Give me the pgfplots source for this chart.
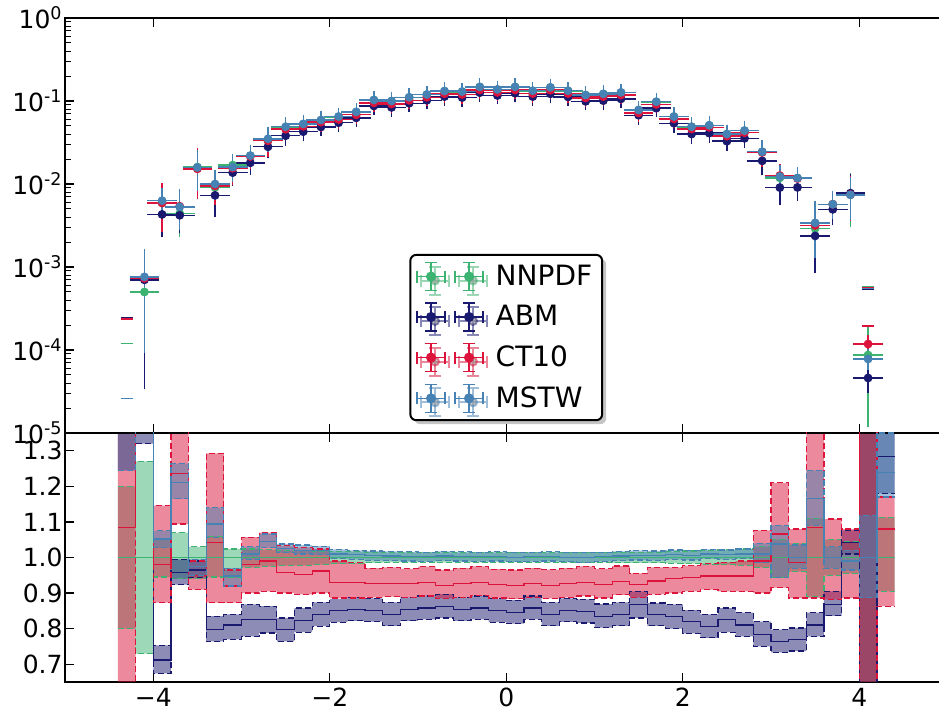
\documentclass[border=0pt]{standalone}
\usepackage{fontspec}
\setmainfont{DejaVu Sans}
\usepackage{pgfplots}
\usepackage{pgfplotstable}
\pgfplotsset{compat=1.18}
\usepgfplotslibrary{fillbetween}
\usetikzlibrary{shadows}

\definecolor{nn}{HTML}{3CB371}
\definecolor{abm}{HTML}{191970}
\definecolor{ct}{HTML}{DC143C}
\definecolor{ms}{HTML}{4682B4}

% top panel: bin centre, value, error
\pgfplotstableread{
x y e
-4.1 5.0e-4 1.3e-4
-3.9 6.0e-3 1.2e-3
-3.7 4.4e-3 1.7e-3
-3.5 0.016 0.0072
-3.3 9.1e-3 2.5e-3
-3.1 0.0169 0.0025
-2.9 0.0218 0.003
-2.7 0.0335 0.006
-2.5 0.0478 0.005
-2.3 0.052 0.005
-2.1 0.0578 0.005
-1.9 0.0644 0.005
-1.7 0.0733 0.006
-1.5 0.1025 0.008
-1.3 0.0995 0.008
-1.1 0.110 0.009
-0.9 0.119 0.009
-0.7 0.131 0.010
-0.5 0.129 0.010
-0.3 0.147 0.011
-0.1 0.137 0.011
0.1 0.147 0.011
0.3 0.132 0.010
0.5 0.145 0.011
0.7 0.132 0.010
0.9 0.117 0.009
1.1 0.121 0.009
1.3 0.126 0.010
1.5 0.0776 0.007
1.7 0.0975 0.008
1.9 0.0647 0.006
2.1 0.0488 0.005
2.3 0.0508 0.005
2.5 0.0398 0.004
2.7 0.0438 0.005
2.9 0.0243 0.004
3.1 0.01185 0.0025
3.3 0.0118 0.0018
3.5 2.92e-3 1.6e-3
3.7 5.7e-3 1.2e-3
3.9 7.45e-3 3.9e-3
4.1 8.7e-5 7.3e-5
}\nnpdf
\pgfplotstableread{
x y e
-4.1 7.0e-4 6.6e-4
-3.9 4.3e-3 1.6e-3
-3.7 4.2e-3 1.2e-3
-3.5 0.0155 0.007
-3.3 7.3e-3 2.6e-3
-3.1 0.0137 0.0025
-2.9 0.018 0.003
-2.7 0.0281 0.004
-2.5 0.0382 0.004
-2.3 0.0427 0.004
-2.1 0.0486 0.004
-1.9 0.0547 0.005
-1.7 0.0626 0.005
-1.5 0.0872 0.007
-1.3 0.0836 0.007
-1.1 0.094 0.008
-0.9 0.102 0.008
-0.7 0.113 0.009
-0.5 0.110 0.009
-0.3 0.126 0.010
-0.1 0.1165 0.009
0.1 0.124 0.010
0.3 0.113 0.009
0.5 0.122 0.010
0.7 0.112 0.009
0.9 0.099 0.008
1.1 0.101 0.008
1.3 0.106 0.008
1.5 0.0674 0.006
1.7 0.0819 0.007
1.9 0.054 0.005
2.1 0.040 0.004
2.3 0.041 0.004
2.5 0.0328 0.003
2.7 0.0355 0.003
2.9 0.019 0.004
3.1 9.05e-3 2.5e-3
3.3 9.1e-3 1.8e-3
3.5 2.37e-3 1.37e-3
3.7 4.95e-3 1.2e-3
3.9 7.76e-3 3.5e-3
4.1 4.6e-5 1.0e-5
}\abmtab
\pgfplotstableread{
x y e
-4.1 7.3e-4 6.1e-4
-3.9 5.9e-3 2.8e-3
-3.7 5.4e-3 1.6e-3
-3.5 0.0152 0.0075
-3.3 9.5e-3 2.9e-3
-3.1 0.0155 0.004
-2.9 0.0214 0.0036
-2.7 0.0332 0.008
-2.5 0.0458 0.005
-2.3 0.0496 0.005
-2.1 0.0556 0.005
-1.9 0.0599 0.005
-1.7 0.0682 0.006
-1.5 0.0949 0.008
-1.3 0.0921 0.008
-1.1 0.102 0.008
-0.9 0.111 0.009
-0.7 0.1225 0.010
-0.5 0.120 0.010
-0.3 0.136 0.011
-0.1 0.127 0.010
0.1 0.136 0.011
0.3 0.123 0.010
0.5 0.135 0.011
0.7 0.123 0.010
0.9 0.109 0.009
1.1 0.113 0.009
1.3 0.118 0.009
1.5 0.0718 0.006
1.7 0.091 0.007
1.9 0.0608 0.005
2.1 0.046 0.004
2.3 0.0482 0.004
2.5 0.0377 0.003
2.7 0.0415 0.004
2.9 0.024 0.005
3.1 0.01263 0.002
3.3 0.01163 0.0018
3.5 3.17e-3 0.9e-3
3.7 5.7e-3 1.2e-3
3.9 7.45e-3 3.2e-3
4.1 1.18e-4 1.0e-5
}\cttab
\pgfplotstableread{
x y e
-4.1 7.6e-4 6.5e-4
-3.9 6.3e-3 1.3e-3
-3.7 5.3e-3 2.0e-3
-3.5 0.0158 0.006
-3.3 0.0100 2.5e-3
-3.1 0.016 0.0035
-2.9 0.022 0.003
-2.7 0.035 0.006
-2.5 0.049 0.005
-2.3 0.053 0.005
-2.1 0.059 0.005
-1.9 0.065 0.005
-1.7 0.074 0.006
-1.5 0.103 0.008
-1.3 0.100 0.008
-1.1 0.111 0.009
-0.9 0.120 0.009
-0.7 0.132 0.010
-0.5 0.130 0.010
-0.3 0.148 0.011
-0.1 0.138 0.011
0.1 0.148 0.011
0.3 0.133 0.010
0.5 0.146 0.011
0.7 0.133 0.010
0.9 0.118 0.009
1.1 0.122 0.009
1.3 0.127 0.010
1.5 0.078 0.007
1.7 0.098 0.008
1.9 0.065 0.006
2.1 0.049 0.005
2.3 0.051 0.005
2.5 0.040 0.004
2.7 0.044 0.005
2.9 0.0245 0.004
3.1 0.0123 0.0022
3.3 0.0118 0.0018
3.5 3.4e-3 1.9e-3
3.7 5.7e-3 1.2e-3
3.9 7.4e-3 3.0e-3
4.1 7.8e-5 1.0e-5
}\mstab

% ratio panel: bin left edge, lower, central, upper
\pgfplotstableread{
x lo c hi
-4.4 0.80 1.0 1.20
-4.2 0.73 1.0 1.27
-4.0 0.945 1.0 1.05
-3.8 0.94 1.0 1.07
-3.6 0.94 1.0 1.03
-3.4 0.945 1.0 1.06
-3.2 0.943 1.0 1.024
-3.0 0.972 1.0 1.024
-2.8 0.975 1.0 1.022
-2.6 0.977 1.0 1.02
-2.4 0.978 1.0 1.02
-2.2 0.98 1.0 1.018
-2.0 0.982 1.0 1.017
-1.8 0.983 1.0 1.016
-1.6 0.985 1.0 1.015
-1.4 0.986 1.0 1.014
-1.2 0.986 1.0 1.014
-1.0 0.987 1.0 1.013
-0.8 0.986 1.0 1.014
-0.6 0.987 1.0 1.013
-0.4 0.986 1.0 1.014
-0.2 0.987 1.0 1.013
0.0 0.987 1.0 1.013
0.2 0.986 1.0 1.014
0.4 0.987 1.0 1.013
0.6 0.986 1.0 1.014
0.8 0.986 1.0 1.014
1.0 0.986 1.0 1.014
1.2 0.985 1.0 1.015
1.4 0.985 1.0 1.015
1.6 0.985 1.0 1.015
1.8 0.984 1.0 1.016
2.0 0.983 1.0 1.018
2.2 0.981 1.0 1.02
2.4 0.98 1.0 1.022
2.6 0.978 1.0 1.024
2.8 0.972 1.0 1.03
3.0 0.943 1.0 1.05
3.2 0.96 1.0 1.04
3.4 0.89 1.0 1.11
3.6 0.95 1.0 1.05
3.8 0.955 1.0 1.045
4.0 0.30 1.0 1.70
4.2 0.905 1.0 1.113
4.4 0.905 1.0 1.113
}\rnn
\pgfplotstableread{
x lo c hi
-4.4 1.245 1.50 1.70
-4.2 1.32 1.50 1.70
-4.0 0.674 0.712 0.753
-3.8 0.924 0.958 0.995
-3.6 0.944 0.965 0.99
-3.4 0.764 0.797 0.835
-3.2 0.77 0.81 0.84
-3.0 0.778 0.825 0.868
-2.8 0.788 0.826 0.863
-2.6 0.764 0.797 0.83
-2.4 0.79 0.822 0.858
-2.2 0.807 0.84 0.874
-2.0 0.818 0.85 0.884
-1.8 0.822 0.854 0.888
-1.6 0.82 0.851 0.885
-1.4 0.808 0.84 0.874
-1.2 0.822 0.854 0.888
-1.0 0.826 0.858 0.892
-0.8 0.83 0.863 0.897
-0.6 0.822 0.854 0.888
-0.4 0.826 0.858 0.892
-0.2 0.818 0.85 0.884
0.0 0.814 0.846 0.88
0.2 0.826 0.858 0.892
0.4 0.808 0.84 0.874
0.6 0.819 0.851 0.885
0.8 0.816 0.848 0.882
1.0 0.803 0.835 0.869
1.2 0.808 0.84 0.874
1.4 0.83 0.868 0.905
1.6 0.808 0.84 0.872
1.8 0.80 0.835 0.868
2.0 0.787 0.82 0.852
2.2 0.774 0.806 0.84
2.4 0.79 0.825 0.858
2.6 0.778 0.81 0.845
2.8 0.75 0.783 0.82
3.0 0.733 0.764 0.797
3.2 0.737 0.77 0.802
3.4 0.778 0.81 0.845
3.6 0.836 0.868 0.905
3.8 1.01 1.042 1.076
4.0 0.40 0.53 1.70
4.2 1.18 1.283 1.36
4.4 1.18 1.283 1.36
}\rabm
\pgfplotstableread{
x lo c hi
-4.4 0.50 1.085 1.70
-4.2 1.40 1.55 1.80
-4.0 0.873 0.981 1.146
-3.8 1.094 1.236 1.50
-3.6 0.91 0.95 0.99
-3.4 0.873 1.042 1.293
-3.2 0.873 0.92 0.965
-3.0 0.90 0.98 1.057
-2.8 0.905 0.99 1.07
-2.6 0.90 0.958 1.033
-2.4 0.896 0.953 1.028
-2.2 0.90 0.962 1.024
-2.0 0.886 0.93 0.99
-1.8 0.886 0.93 0.985
-1.6 0.888 0.926 0.97
-1.4 0.89 0.928 0.972
-1.2 0.888 0.926 0.968
-1.0 0.892 0.93 0.974
-0.8 0.885 0.922 0.965
-0.6 0.888 0.926 0.97
-0.4 0.893 0.93 0.975
-0.2 0.886 0.924 0.967
0.0 0.884 0.922 0.965
0.2 0.888 0.926 0.97
0.4 0.885 0.922 0.966
0.6 0.888 0.926 0.97
0.8 0.892 0.93 0.975
1.0 0.886 0.925 0.968
1.2 0.895 0.932 0.976
1.4 0.888 0.925 0.955
1.6 0.896 0.934 0.972
1.8 0.90 0.94 0.972
2.0 0.905 0.943 0.977
2.2 0.91 0.948 0.982
2.4 0.905 0.948 0.986
2.6 0.905 0.948 0.99
2.8 0.90 0.99 1.076
3.0 0.915 1.066 1.21
3.2 0.886 0.986 1.08
3.4 0.886 1.085 1.50
3.6 0.882 1.0 1.108
3.8 0.886 0.99 1.08
4.0 0.40 1.36 1.80
4.2 0.863 1.08 1.17
4.4 0.863 1.08 1.17
}\rct
\pgfplotstableread{
x lo c hi
-4.4 1.245 1.45 1.70
-4.2 1.38 1.52 1.70
-4.0 1.028 1.052 1.075
-3.8 1.165 1.21 1.264
-3.6 0.95 0.975 0.995
-3.4 1.057 1.094 1.14
-3.2 0.92 0.948 0.97
-3.0 0.995 1.01 1.03
-2.8 1.028 1.045 1.066
-2.6 1.014 1.025 1.038
-2.4 1.01 1.02 1.035
-2.2 1.008 1.02 1.032
-2.0 0.997 1.01 1.023
-1.8 0.995 1.008 1.02
-1.6 0.992 1.005 1.018
-1.4 0.991 1.004 1.017
-1.2 0.99 1.003 1.016
-1.0 0.989 1.002 1.015
-0.8 0.991 1.004 1.017
-0.6 0.99 1.003 1.016
-0.4 0.989 1.002 1.015
-0.2 0.99 1.003 1.016
0.0 0.988 1.001 1.014
0.2 0.989 1.002 1.015
0.4 0.99 1.003 1.016
0.6 0.988 1.001 1.014
0.8 0.987 1.0 1.013
1.0 0.989 1.002 1.015
1.2 0.991 1.004 1.017
1.4 0.993 1.006 1.019
1.6 0.992 1.005 1.018
1.8 0.995 1.008 1.021
2.0 0.993 1.006 1.019
2.2 0.997 1.01 1.023
2.4 0.995 1.008 1.021
2.6 0.997 1.01 1.024
2.8 0.985 1.01 1.04
3.0 0.943 1.038 1.09
3.2 0.97 1.0 1.035
3.4 1.09 1.165 1.245
3.6 0.97 1.0 1.03
3.8 0.965 0.99 1.02
4.0 0.887 1.0 1.118
4.2 1.17 1.24 1.35
4.4 1.17 1.24 1.35
}\rms

% one error-bar cross for the legend, centred at (#2,0)
\newcommand\legx[2]{%
  \draw[#1, line width=0.7pt] (#2-7pt,0pt)--(#2+7pt,0pt) (#2,-7pt)--(#2,7pt)
    (#2-7pt,-3pt)--(#2-7pt,3pt) (#2+7pt,-3pt)--(#2+7pt,3pt)
    (#2-3pt,-7pt)--(#2+3pt,-7pt) (#2-3pt,7pt)--(#2+3pt,7pt);
  \fill[#1] (#2,0pt) circle (2pt);}

\pgfplotsset{
  pts/.style={only marks, mark=*, mark size=2pt, color=#1,
    mark options={solid, fill=#1, draw=#1},
    legend image code/.code={\legx{#1}{7pt}\legx{#1}{26pt}},
    error bars/.cd, x dir=both, x fixed=0.1, y dir=both, y explicit,
    error bar style={line width=0.7pt, #1},
    error mark options={line width=0.7pt, mark size=3pt, #1}},
  caps/.style={only marks, mark=-, mark size=3pt, color=#1,
    mark options={line width=0.8pt}, forget plot},
  band/.style={const plot, #1, dashed, line width=0.6pt, dash pattern=on 3pt off 1.5pt, forget plot},
  mid/.style={const plot, #1, line width=0.6pt, forget plot},
  frame/.style={scale only axis, width=441.25pt, xmin=-5, xmax=5,
    xtick={-4,-2,0,2,4}, tick align=inside,
    axis line style={line width=0.8pt}, major tick style={line width=0.6pt, black},
    minor tick style={line width=0.5pt, black},
    tick label style={font=\fontsize{12.5}{14}\selectfont},
    yticklabel style={inner xsep=1pt},
    xticklabel style={inner ysep=0pt, yshift=-3pt}},
}

\begin{document}
\begin{tikzpicture}
\begin{axis}[frame, name=top, at={(0,0)}, anchor=south west, height=207.5pt,
  ymode=log, ymin=1e-5, ymax=1,
  xticklabels={},
  ytick={1e-5,1e-4,1e-3,1e-2,1e-1,1},
  yticklabels={10\textsuperscript{-5},10\textsuperscript{-4},10\textsuperscript{-3},10\textsuperscript{-2},10\textsuperscript{-1},10\textsuperscript{0}},
  legend style={at={(rel axis cs:0.5,0.23)}, anchor=center, draw=black,
    line width=1pt, rounded corners=3pt, fill=white,
    drop shadow={shadow xshift=2pt, shadow yshift=-2pt, fill=black!45},
    font=\fontsize{14}{16}\selectfont, row sep=4.5pt, column sep=4pt,
    inner xsep=3pt, inner ysep=3pt},
  legend cell align=left,
]
\addplot[pts=nn] table[x=x, y=y, y error=e] {\nnpdf};
\addlegendentry{NNPDF}
\addplot[pts=abm] table[x=x, y=y, y error=e] {\abmtab};
\addlegendentry{ABM}
\addplot[pts=ct] table[x=x, y=y, y error=e] {\cttab};
\addlegendentry{CT10}
\addplot[pts=ms] table[x=x, y=y, y error=e] {\mstab};
\addlegendentry{MSTW}
\addplot[caps=nn] coordinates {(-4.3,1.2e-4) (4.1,5.7e-4)};
\addplot[caps=abm] coordinates {(-4.3,2.45e-4) (4.1,5.4e-4)};
\addplot[caps=ct] coordinates {(-4.3,2.35e-4) (4.1,5.6e-4) (4.1,1.95e-4)};
\addplot[caps=ms] coordinates {(-4.3,2.6e-5) (4.1,5.5e-4)};
\end{axis}

\begin{axis}[frame, name=bot, at={(0,0)}, anchor=north west, height=124.5pt,
  ymin=0.65, ymax=1.35,
  xticklabels={−4,−2,0,2,4},
  ytick={0.7,0.8,0.9,1.0,1.1,1.2,1.3},
  yticklabels={0.7,0.8,0.9,1.0,1.1,1.2,1.3},
]
\addplot[band=nn, name path=nnhi] table[x=x, y=hi] {\rnn};
\addplot[band=nn, name path=nnlo] table[x=x, y=lo] {\rnn};
\addplot[nn, fill opacity=0.5, draw=none, forget plot] fill between[of=nnhi and nnlo];
\addplot[mid=nn] table[x=x, y=c] {\rnn};

\addplot[band=abm, name path=abhi] table[x=x, y=hi] {\rabm};
\addplot[band=abm, name path=ablo] table[x=x, y=lo] {\rabm};
\addplot[abm, fill opacity=0.5, draw=none, forget plot] fill between[of=abhi and ablo];
\addplot[mid=abm] table[x=x, y=c] {\rabm};

\addplot[band=ct, name path=cthi] table[x=x, y=hi] {\rct};
\addplot[band=ct, name path=ctlo] table[x=x, y=lo] {\rct};
\addplot[ct, fill opacity=0.5, draw=none, forget plot] fill between[of=cthi and ctlo];
\addplot[mid=ct] table[x=x, y=c] {\rct};

\addplot[band=ms, name path=mshi] table[x=x, y=hi] {\rms};
\addplot[band=ms, name path=mslo] table[x=x, y=lo] {\rms};
\addplot[ms, fill opacity=0.5, draw=none, forget plot] fill between[of=mshi and mslo];
\addplot[mid=ms] table[x=x, y=c] {\rms};
\end{axis}
\pgfresetboundingbox
\useasboundingbox (-32.5pt,-138.5pt) rectangle (437pt,216.5pt);
\end{tikzpicture}
\end{document}
